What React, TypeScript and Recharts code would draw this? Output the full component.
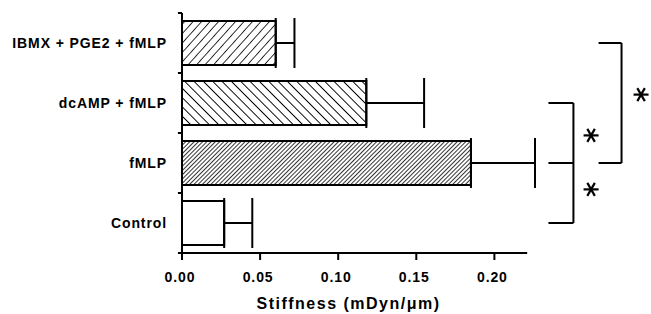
import React from 'react';
import {
  BarChart,
  Bar,
  XAxis,
  YAxis,
  Cell,
  ErrorBar,
  ReferenceLine,
  ReferenceDot,
  Label
} from 'recharts';

const categories = ['IBMX + PGE2 + fMLP', 'dcAMP + fMLP', 'fMLP', 'Control'];
const stiffness = [0.060, 0.118, 0.185, 0.027];
const sem = [0.012, 0.037, 0.041, 0.018];
const fills = ['url(#hatchWide)', 'url(#hatchBack)', 'url(#hatchDense)', '#ffffff'];
const xTicks = [0, 0.05, 0.1, 0.15, 0.2];

// significance brackets, y in band units (0 = bottom of Control band)
const brackets = [
  { x0: 0.2346, x1: 0.2506, ends: [2.5, 1.5, 0.5] },
  { x0: 0.2667, x1: 0.2814, ends: [3.5, 1.5] }
];
const stars = [
  { x: 0.2619, y: 1.96 },
  { x: 0.2619, y: 1.06 },
  { x: 0.2939, y: 2.64 }
];
const bandEdges = [0, 1, 2, 3, 4];

const data = categories.map((name, i) => ({
  name,
  value: stiffness[i],
  err: [0, sem[i]]
}));

const INK = '#000';
const FONT = '"Liberation Sans", Arial, sans-serif';

const Star = (props: any) => {
  const { cx, cy } = props;
  const r = 7.5;
  return (
    <g stroke={INK} strokeWidth={2.2}>
      {[0, 60, 120].map(a => {
        const dx = r * Math.cos((a * Math.PI) / 180);
        const dy = r * Math.sin((a * Math.PI) / 180);
        return <line key={a} x1={cx - dx} y1={cy - dy} x2={cx + dx} y2={cy + dy} />;
      })}
    </g>
  );
};

export default function App() {
  return (
    <div style={{ position: 'absolute', left: 0, top: 0, width: 651, height: 314, background: '#fff' }}>
      <BarChart
        width={651}
        height={314}
        data={data}
        layout="vertical"
        margin={{ top: 13, right: 116, bottom: 0, left: 0 }}
        barSize={44}
      >
        <defs>
          <pattern id="hatchWide" width="6.3" height="6.3" patternUnits="userSpaceOnUse" patternTransform="rotate(42)">
            <rect width="6.3" height="6.3" fill="#fff" />
            <line x1="0" y1="0" x2="0" y2="6.3" stroke={INK} strokeWidth="1.6" />
          </pattern>
          <pattern id="hatchBack" width="6.6" height="6.6" patternUnits="userSpaceOnUse" patternTransform="rotate(-45)">
            <rect width="6.6" height="6.6" fill="#fff" />
            <line x1="0" y1="0" x2="0" y2="6.6" stroke={INK} strokeWidth="1.9" />
          </pattern>
          <pattern id="hatchDense" width="3" height="3" patternUnits="userSpaceOnUse" patternTransform="rotate(45)">
            <rect width="3" height="3" fill="#fff" />
            <line x1="0" y1="0" x2="0" y2="3" stroke={INK} strokeWidth="1.6" />
          </pattern>
        </defs>
        <XAxis
          type="number"
          domain={[0, 0.226]}
          ticks={xTicks}
          tickFormatter={(v: number) => v.toFixed(2)}
          axisLine={false}
          tickLine={{ stroke: INK, strokeWidth: 2 }}
          tickSize={7}
          tickMargin={12}
          height={61}
          tick={{ fill: INK, fontSize: 14, fontWeight: 'bold', fontFamily: FONT, letterSpacing: 0.9, dx: -2 }}
        >
          <Label
            value="Stiffness (mDyn/μm)"
            position="insideBottom"
            offset={5}
            dx={-10}
            style={{ fill: INK, fontSize: 16, fontWeight: 'bold', fontFamily: FONT, letterSpacing: 1.5 }}
          />
        </XAxis>
        <YAxis
          type="category"
          dataKey="name"
          width={182}
          axisLine={{ stroke: INK, strokeWidth: 2 }}
          tickLine={false}
          tickSize={0}
          tickMargin={15}
          tick={{ fill: INK, fontSize: 14, fontWeight: 'bold', fontFamily: FONT, letterSpacing: 0.9 }}
        />
        {/* helper axis: band units, used for annotations only */}
        <YAxis yAxisId="n" type="number" dataKey="value" domain={[0, 4]} reversed hide />
        <Bar dataKey="value" stroke={INK} strokeWidth={2} isAnimationActive={false}>
          {data.map((d, i) => (
            <Cell key={d.name} fill={fills[i]} />
          ))}
          <ErrorBar dataKey="err" direction="x" width={25} stroke={INK} strokeWidth={2} isAnimationActive={false} />
        </Bar>

        {/* x axis line, ends short of the domain end */}
        <ReferenceLine
          yAxisId="n"
          segment={[{ x: 0, y: 0 }, { x: 0.221, y: 0 }]}
          stroke={INK}
          strokeWidth={2}
          ifOverflow="visible"
        />
        {/* y axis ticks at band edges */}
        {bandEdges.map(e => (
          <ReferenceLine
            key={'edge' + e}
            yAxisId="n"
            segment={[{ x: -0.0026, y: e }, { x: 0, y: e }]}
            stroke={INK}
            strokeWidth={2}
            ifOverflow="visible"
          />
        ))}
        {brackets.map((b, bi) => (
          <React.Fragment key={'br' + bi}>
            <ReferenceLine
              yAxisId="n"
              segment={[{ x: b.x1, y: b.ends[0] }, { x: b.x1, y: b.ends[b.ends.length - 1] }]}
              stroke={INK}
              strokeWidth={2}
              ifOverflow="visible"
            />
            {b.ends.map(e => (
              <ReferenceLine
                key={'be' + bi + e}
                yAxisId="n"
                segment={[{ x: b.x0, y: e }, { x: b.x1, y: e }]}
                stroke={INK}
                strokeWidth={2}
                ifOverflow="visible"
              />
            ))}
          </React.Fragment>
        ))}
        {stars.map((s, i) => (
          <ReferenceDot key={'s' + i} yAxisId="n" x={s.x} y={s.y} r={8} ifOverflow="visible" shape={Star} />
        ))}
      </BarChart>
    </div>
  );
}
